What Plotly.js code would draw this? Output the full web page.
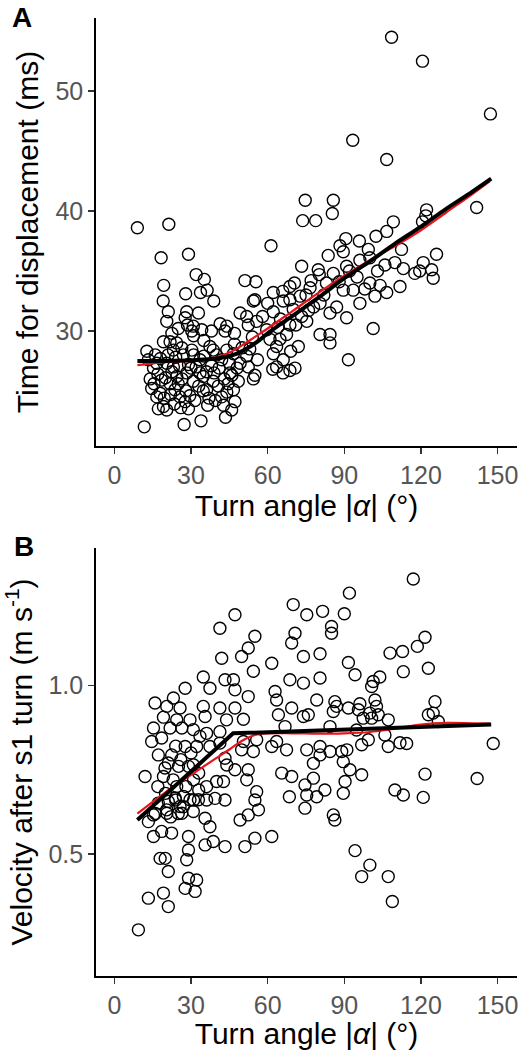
<!DOCTYPE html>
<html>
<head>
<meta charset="utf-8">
<script src="https://cdn.plot.ly/plotly-3.0.1.min.js"></script>
<style>html,body{margin:0;padding:0;background:#fff;}#chart{width:525px;height:1050px;}</style>
</head>
<body>
<div id="chart"></div>
<script>
// ---- Data ----
const xTicks = [0, 30, 60, 90, 120, 150];
const yTicksA = [30, 40, 50];
const yTicksB = [0.5, 1.0];
const yTickTextB = ['0.5', '1.0'];

// Panel A: turn angle |alpha| (deg), time for displacement (ms)
const pointsA = [
[108.5,54.5],[120.6,52.5],[147.2,48.1],[93.3,45.9],[106.6,44.3],[141.8,40.3],[9.0,38.6],[21.3,38.9],[61.3,37.1],[74.7,40.9],[73.7,39.2],[78.8,39.2],[85.7,40.9],[85.3,39.8],[109.2,39.1],[106.6,38.3],[102.4,37.9],[90.6,37.7],[88.3,37.1],[89.6,36.6],[95.9,37.5],[99.4,36.8],[112.4,36.8],[120.6,39.1],[122.2,40.1],[121.9,39.6],[126.1,36.4],[83.7,36.3],[119.5,35.0],
[18.3,36.1],[29.0,36.4],[32.0,34.7],[35.2,34.3],[51.1,34.2],[55.4,34.1],[19.3,33.8],[27.9,33.1],[33.7,33.2],[36.3,33.4],[38.9,32.5],[19.1,32.5],[21.1,31.6],[20.5,30.8],[28.3,31.6],[32.9,31.5],[27.7,31.1],[28.6,30.5],[30.9,30.4],[34.2,30.1],[30.3,30.0],[41.4,30.6],[43.3,30.0],[49.2,31.5],[51.8,31.2],[52.4,30.5],[55.7,30.8],[54.4,32.5],[55.0,32.6],[62.2,33.2],[65.9,33.3],[68.7,33.7],[73.3,35.4],[79.8,35.1],[80.2,34.7],[85.7,34.8],[90.9,35.4],[96.1,35.9],[100.0,36.1],[105.9,35.5],[109.8,35.7],[113.1,35.2],[117.6,34.8],[120.9,35.7],[124.2,35.1],[124.8,34.4],
[111.8,33.7],[106.6,33.2],[102.0,32.9],[96.1,32.3],[90.9,31.1],[89.6,33.4],[93.5,33.4],[100.0,34.0],[101.3,30.2],[91.6,27.6],[80.5,29.7],[84.4,29.7],[84.4,29.0],[84.4,31.5],[80.5,32.3],[76.6,33.6],[72.7,32.9],[68.7,32.6],[66.1,32.5],[70.0,31.8],[73.3,31.2],[75.3,30.8],[68.7,30.5],[67.4,29.7],[72.0,28.7],[64.8,29.3],[60.9,29.3],[63.5,28.7],[62.2,28.1],[66.1,27.6],[63.5,27.0],[68.7,26.7],[70.7,26.9],[59.6,30.1],[62.2,31.6],
[12.7,28.3],[13.3,27.6],[15.3,26.9],[14.6,25.2],[16.6,24.5],[19.2,23.7],[17.2,23.5],[20.5,23.4],[17.9,24.8],[21.8,25.6],[24.4,26.2],[23.7,25.1],[25.7,24.5],[27.7,24.1],[29.0,23.5],[23.1,28.4],[26.4,28.6],[30.3,28.4],[33.5,27.6],[34.8,25.0],[36.1,25.1],[38.7,25.8],[40.7,25.4],[42.0,24.5],[42.7,23.8],[45.9,23.4],[47.2,24.1],[46.6,25.1],[48.5,25.8],[45.3,26.5],[49.2,27.3],[52.4,27.0],[55.0,26.3],[54.4,26.0],[51.8,27.9],[46.6,28.1],[44.0,28.4],[38.7,28.4],[37.4,28.7],[33.5,26.5],[28.3,26.5],[30.9,25.8],[34.8,26.2],[19.2,29.1],[21.8,29.1],[24.4,29.0],[16.6,27.3],[20.5,27.3],[23.1,27.0],[11.7,22.0],[27.3,22.2],[33.9,22.5],
[14,26.0],[15.5,25.6],[16,28.0],[17,26.4],[18,27.7],[18.5,25.9],[19.5,24.4],[20,26.1],[21,28.0],[22,24.7],[22.5,26.6],[23.5,23.9],[24,27.8],[25,25.6],[25.5,27.1],[26,23.6],[26.5,26.0],[27,28.0],[28,25.0],[29,27.2],[29.5,24.6],[30,26.9],[31,28.0],[31.5,24.2],[32,27.0],[33,25.4],[35,27.9],[36,26.6],[37,24.4],[38,27.1],[39,26.5],[40,28.0],[41,26.9],[42,27.6],[43,26.0],[44,24.9],[45,27.3],[46,26.3],[47,28.9],[48,26.9],[50,28.6],[53,28.5],[54,29.5],[56,27.6],[44.5,25.6],[39.5,24.2],[36.5,23.8],[43.5,22.8],[22.5,29.8],[25,30.2],[31,29.6],[35,29.2],[38,30.0],[44,30.4],[47,29.8],
[70.5,34.0],[77,34.2],[82,33.0],[87,32.0],[95,34.5],[98,33.5],[103,35.0],[104,33.8],[92,35.0],[88,34.1],[83,34.0],[78,32.0],[75,33.0],[65,31.0],[58,31.2],[60,32.3],[62,26.8],[66,26.5],[64,30.3],[69,28.3],[71,30.5],[76,31.7]
];

// Panel A fitted curves
const fitAngleABlack = [9, 20, 30, 38, 44, 48, 52, 56, 60, 70, 80, 90, 100, 110, 120, 130, 140, 147.5];
const fitTimeABlack  = [27.5, 27.5, 27.55, 27.65, 27.85, 28.1, 28.55, 29.1, 29.8, 31.3, 32.8, 34.4, 35.8, 37.3, 38.7, 40.2, 41.6, 42.7];
const fitAngleARed = [9, 15, 20, 25, 30, 35, 40, 45, 50, 55, 60, 70, 80, 90, 100, 110, 120, 130, 140, 147];
const fitTimeARed  = [27.15, 27.3, 27.4, 27.45, 27.5, 27.6, 27.8, 28.2, 28.8, 29.5, 30.2, 31.7, 33.2, 34.6, 35.9, 37.1, 38.4, 39.9, 41.4, 42.5];

// Panel B: turn angle |alpha| (deg), velocity after s1 turn (m/s)
const pointsB = [
[27.7,0.992],[23.1,0.963],[15.9,0.948],[20.5,0.938],[25.7,0.933],[19.2,0.906],[24.4,0.898],[29.6,0.898],[15.3,0.874],[21.8,0.874],[26.4,0.874],[30.9,0.869],[33.5,0.849],[14.6,0.834],[18.5,0.844],[27.7,0.819],[32.2,0.819],[17.2,0.794],[22.4,0.794],[21.1,0.770],[19.8,0.755],[25.1,0.760],[29.0,0.760],[30.9,0.765],[12.0,0.730],[19.2,0.730],[24.4,0.700],[17.2,0.651],[21.1,0.656],[23.8,0.666],[27.0,0.671],[29.6,0.661],[32.9,0.661],[20.5,0.631],[25.7,0.641],[30.9,0.626],[13.3,0.596],[18.5,0.567],[15.3,0.552],[22.4,0.562],[29.0,0.552],[29.0,0.512],[35.5,0.527],[17.9,0.487],[19.9,0.487],[21.1,0.448],[28.3,0.483],[29.0,0.428],[32.2,0.423],[27.7,0.398],[31.6,0.389],[13.3,0.369],[19.2,0.384],[21.1,0.344],[9.4,0.275],[15.3,0.616],[20.5,0.621],[26.4,0.621],
[47.2,1.210],[41.3,1.170],[55.0,1.146],[52.4,1.111],[49.8,1.086],[42.0,1.081],[54.4,1.042],[34.8,1.025],[37.4,0.992],[43.3,1.017],[46.6,1.017],[47.2,0.987],[52.4,0.967],[34.8,0.938],[41.3,0.933],[47.2,0.933],[35.5,0.908],[43.9,0.898],[50.5,0.900],[36.1,0.858],[41.3,0.863],[55.7,0.839],[50.5,0.834],[49.8,0.809],[54.4,0.804],[41.3,0.829],[37.4,0.819],[43.3,0.784],[44.0,0.764],[47.2,0.750],[52.4,0.750],[51.8,0.720],[40.0,0.715],[42.7,0.715],[36.1,0.700],[39.4,0.665],[43.3,0.660],[36.1,0.660],[55.7,0.685],[55.0,0.660],[56.4,0.631],[49.2,0.601],[52.4,0.616],[35.5,0.606],[37.4,0.581],[38.7,0.537],[43.3,0.522],[51.1,0.522],[55.0,0.547],[61.6,0.552],[61.6,1.066],[62.9,0.982],[63.5,0.957],[64.2,0.913],[66.8,0.878],[69.4,0.933],[68.7,1.017],[70.7,1.155],[69.4,1.126],[70.0,1.240],[61.6,0.819],[67.4,0.809],[65.5,0.740],[69.4,0.730],[63.5,0.834],[68.5,0.670],
[75.3,1.210],[81.5,1.220],[90.0,1.213],[85.0,1.175],[85.0,1.155],[74.0,1.086],[80.5,1.094],[91.6,1.068],[94.2,1.032],[80.5,1.022],[74.0,1.007],[107.9,1.096],[100.7,0.997],[103.9,1.025],[101.3,1.012],[102.0,0.957],[102.6,0.938],[79.2,0.957],[86.3,0.952],[87.0,0.938],[91.6,0.933],[96.1,0.946],[95.5,0.928],[100.0,0.918],[103.3,0.913],[107.2,0.898],[85.7,0.923],[74.0,0.908],[75.9,0.913],[97.4,0.903],[100.7,0.903],[84.4,0.878],[94.8,0.868],[99.4,0.839],[96.8,0.824],[105.9,0.853],[107.2,0.819],[75.3,0.809],[80.5,0.819],[80.5,0.794],[77.9,0.769],[84.4,0.804],[89.0,0.804],[91.0,0.809],[89.6,0.774],[92.2,0.750],[96.8,0.735],[90.3,0.715],[89.6,0.680],[77.9,0.725],[74.6,0.705],[75.3,0.675],[82.4,0.690],[79.2,0.670],[74.6,0.636],[109.8,0.690],[85.7,0.616],[86.3,0.601],[94.2,0.510],[100.0,0.467],[96.8,0.433],[107.2,0.433],[92.0,1.274],[108.8,0.359],
[117.0,1.316],[121.6,1.143],[118.6,1.116],[112.8,1.101],[113.1,1.041],[122.9,1.051],[125.5,0.952],[122.9,0.913],[124.8,0.918],[126.8,0.893],[148.3,0.828],[111.8,0.830],[114.4,0.828],[121.6,0.737],[142.0,0.724],[113.1,0.675],[120.9,0.668],
[24,0.82],[26,0.78],[23,0.72],[28,0.70],[31,0.72],[33,0.74],[25,0.62],[27,0.64],[22,0.61],[31,0.66],[17,0.70],[20,0.68],[24,0.66],[33,0.69],[30,0.80],[16,0.62]
];

// Panel B fitted curves
const fitAngleBBlack = [9, 46.5, 147.5];
const fitVelBBlack   = [0.601, 0.858, 0.884];
const fitAngleBRed = [9, 15, 20, 25, 30, 35, 40, 45, 50, 55, 60, 70, 80, 90, 100, 110, 120, 130, 140, 147];
const fitVelBRed   = [0.620, 0.655, 0.683, 0.710, 0.735, 0.760, 0.785, 0.810, 0.836, 0.853, 0.858, 0.858, 0.857, 0.858, 0.862, 0.872, 0.884, 0.889, 0.888, 0.887];

// ---- Plot ----
const FONT = '"Liberation Sans", Arial, Helvetica, sans-serif';
const markerStyle = {symbol: 'circle-open', size: 12, color: '#000', line: {width: 1.4, color: '#000'}};

const traces = [
  {x: pointsA.map(p => p[0]), y: pointsA.map(p => p[1]), xaxis: 'x', yaxis: 'y', type: 'scatter', mode: 'markers', marker: markerStyle, hoverinfo: 'skip'},
  {x: fitAngleARed, y: fitTimeARed, xaxis: 'x', yaxis: 'y', type: 'scatter', mode: 'lines', line: {color: '#e8141c', width: 2.2, shape: 'spline'}, hoverinfo: 'skip'},
  {x: fitAngleABlack, y: fitTimeABlack, xaxis: 'x', yaxis: 'y', type: 'scatter', mode: 'lines', line: {color: '#000', width: 4, shape: 'spline'}, hoverinfo: 'skip'},
  {x: pointsB.map(p => p[0]), y: pointsB.map(p => p[1]), xaxis: 'x2', yaxis: 'y2', type: 'scatter', mode: 'markers', marker: markerStyle, hoverinfo: 'skip'},
  {x: fitAngleBRed, y: fitVelBRed, xaxis: 'x2', yaxis: 'y2', type: 'scatter', mode: 'lines', line: {color: '#e8141c', width: 2.2, shape: 'spline'}, hoverinfo: 'skip'},
  {x: fitAngleBBlack, y: fitVelBBlack, xaxis: 'x2', yaxis: 'y2', type: 'scatter', mode: 'lines', line: {color: '#000', width: 4}, hoverinfo: 'skip'}
];

const axisCommon = {
  showline: true, linecolor: '#000', linewidth: 1.8,
  ticks: 'outside', ticklen: 6, tickwidth: 1.5, tickcolor: '#333',
  tickfont: {family: FONT, size: 25, color: '#555'},
  showgrid: false, zeroline: false, mirror: false, automargin: false
};
const xRange = [-7.2, 157.6];
const titleFont = {family: FONT, size: 30, color: '#000'};

const layout = {
  width: 525, height: 1050,
  margin: {l: 96, r: 8, t: 18, b: 74},
  paper_bgcolor: '#fff', plot_bgcolor: '#fff',
  showlegend: false,
  font: {family: FONT, color: '#000'},
  xaxis: Object.assign({}, axisCommon, {
    domain: [0, 1], anchor: 'y', range: xRange, tickvals: xTicks,
    title: {text: 'Turn angle |<i>α</i>| (°)', font: titleFont, standoff: 7}
  }),
  yaxis: Object.assign({}, axisCommon, {
    domain: [0.5532, 1], anchor: 'x', range: [20.4, 56.1], tickvals: yTicksA,
    title: {text: 'Time for displacement (ms)', font: titleFont, standoff: 8}
  }),
  xaxis2: Object.assign({}, axisCommon, {
    domain: [0, 1], anchor: 'y2', range: xRange, tickvals: xTicks,
    title: {text: 'Turn angle |<i>α</i>| (°)', font: titleFont, standoff: 7}
  }),
  yaxis2: Object.assign({}, axisCommon, {
    domain: [0, 0.4468], anchor: 'x2', range: [0.138, 1.408], tickvals: yTicksB, ticktext: yTickTextB,
    title: {text: 'Velocity after s1 turn (m s<sup>-1</sup>)', font: titleFont, standoff: 8}
  }),
  annotations: [
    {text: '<b>A</b>', xref: 'paper', yref: 'paper', x: -0.205, y: 1.0185, xanchor: 'left', yanchor: 'top', showarrow: false, font: {family: FONT, size: 28, color: '#000'}},
    {text: '<b>B</b>', xref: 'paper', yref: 'paper', x: -0.2, y: 0.4665, xanchor: 'left', yanchor: 'top', showarrow: false, font: {family: FONT, size: 28, color: '#000'}}
  ]
};

Plotly.newPlot('chart', traces, layout, {displayModeBar: false, staticPlot: true});
</script>
</body>
</html>
